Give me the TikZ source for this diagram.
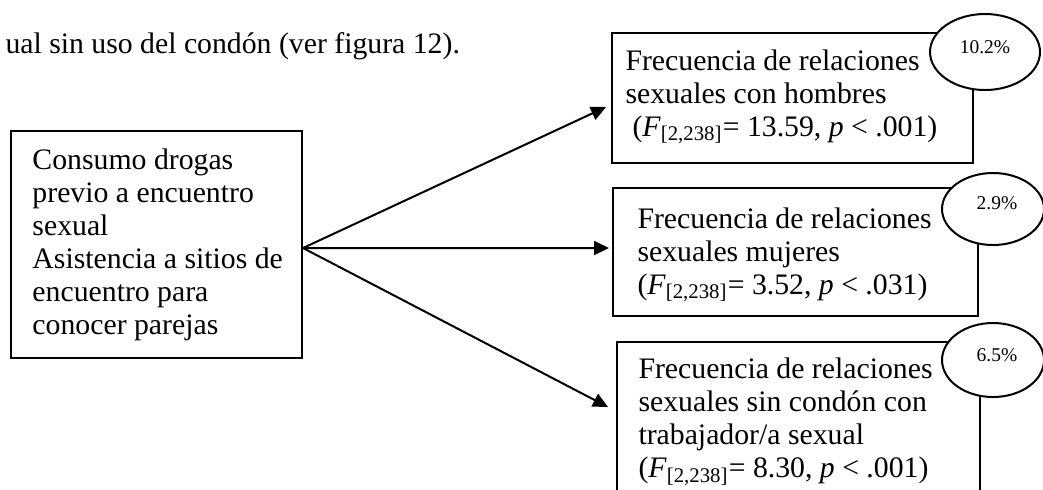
\documentclass[tikz,border=0pt]{standalone}
\usepackage{fontspec}
\setmainfont{Liberation Serif}
\usetikzlibrary{shapes.geometric,arrows.meta}
\begin{document}
\begin{tikzpicture}[x=0.4pt,y=-0.4pt,
  box/.style={draw, line width=0.8pt, fill=white, inner sep=0pt},
  txt/.style={font=\fontsize{11.9pt}{13.2pt}\selectfont, align=left, inner sep=0pt, anchor=west},
  pct/.style={draw, ellipse, line width=0.8pt, fill=white, inner sep=0pt},
  pcttxt/.style={font=\fontsize{7.8pt}{8.5pt}\selectfont, inner sep=0pt},
  arr/.style={line width=0.8pt, -{Triangle[length=6pt,width=5.6pt]}}]
\useasboundingbox (0,0) rectangle (1043,489);
\clip (0,0) rectangle (1043,489);

% top running text
\node[txt, anchor=base west] (top) at (5,53) {ual sin uso del condón (ver figura 12).};

% left box
\node[box, minimum width=116.4pt, minimum height=90.8pt] (lb) at (156.5,244.5) {};
\node[txt] (lbt) at (32,245) {Consumo drogas\\previo a encuentro\\sexual\\Asistencia a sitios de\\encuentro para\\conocer parejas};

% right boxes
\node[box, minimum width=144.4pt, minimum height=52pt] (b1) at (792.5,98) {};
\node[txt] (b1t) at (625,97) {Frecuencia de relaciones\\sexuales con hombres\\\hspace*{2.8pt}(\textit{F}\textsubscript{[2,238]}= 13.59, \textit{p} < .001)};

\node[box, minimum width=146pt, minimum height=51.2pt] (b2) at (795.5,252) {};
\node[txt] (b2t) at (637,255) {Frecuencia de relaciones\\sexuales mujeres\\(\textit{F}\textsubscript{[2,238]}= 3.52, \textit{p} < .031)};

\node[box, minimum width=145.2pt, minimum height=63.2pt] (b3) at (798.5,421) {};
\node[txt] (b3t) at (638,422) {Frecuencia de relaciones\\sexuales sin condón con\\trabajador/a sexual\\(\textit{F}\textsubscript{[2,238]}= 8.30, \textit{p} < .001)};

% ellipses
\node[pct, minimum width=44pt, minimum height=30.4pt] (e1) at (985,52) {};
\node[pcttxt] (e1t) at (985,47) {10.2\%};
\node[pct, minimum width=40.8pt, minimum height=28.8pt] (e2) at (993,209) {};
\node[pcttxt] (e2t) at (997,203) {2.9\%};
\node[pct, minimum width=40.8pt, minimum height=29.6pt] (e3) at (993,360) {};
\node[pcttxt] (e3t) at (997,355) {6.5\%};

% arrows
\coordinate (src) at ([yshift=-1.4pt]lb.east);
\draw[arr] (src) -- ([xshift=-2pt,yshift=-3.6pt]b1.west);
\draw[arr] (src) -- ([xshift=-1.2pt,yshift=1.6pt]b2.west);
\draw[arr] (src) -- ([xshift=-3.2pt,yshift=5.6pt]b3.west);
\end{tikzpicture}
\end{document}
